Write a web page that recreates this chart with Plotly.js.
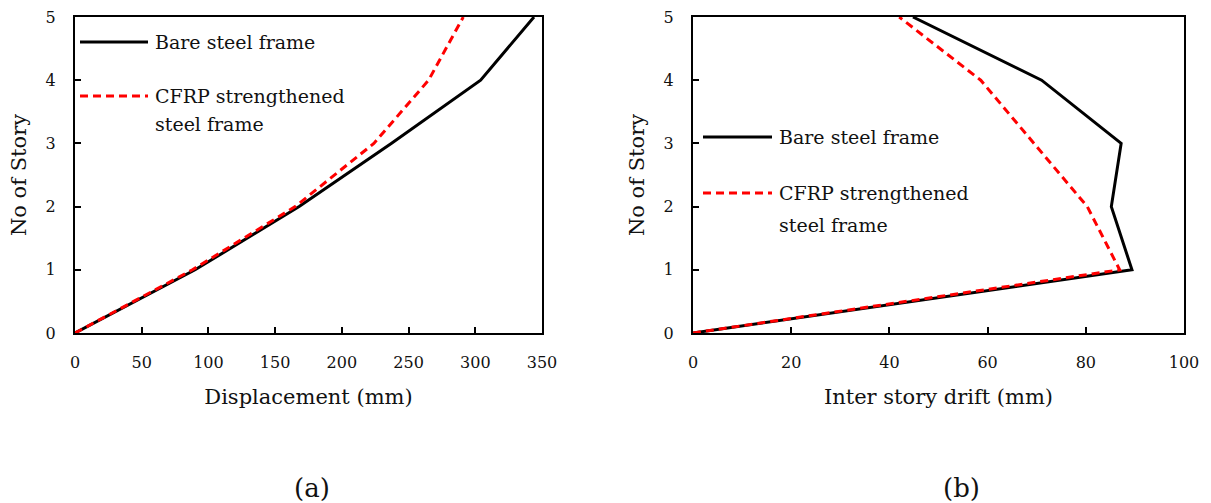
<!DOCTYPE html>
<html>
<head>
<meta charset="utf-8">
<script src="https://cdn.plot.ly/plotly-3.0.1.min.js"></script>
<style>html,body{margin:0;padding:0;background:#fff}#chart{width:1211px;height:503px}</style>
</head>
<body>
<div id="chart"></div>
<script>
// ---- data ----
const stories = [0, 1, 2, 3, 4, 5];
const dispBare = [0, 90, 168, 237, 304, 344];
const dispCFRP = [0, 88, 165, 224, 265, 291];
const driftBare = [0, 89.4, 85.2, 87.2, 71, 44.8];
const driftCFRP = [0, 86.9, 80.3, 69.4, 58.6, 42];
const seriesNames = ['Bare steel frame', 'CFRP strengthened steel frame'];
const xTitleA = 'Displacement (mm)';
const xTitleB = 'Inter story drift (mm)';
const yTitle = 'No of Story';
const captions = ['(a)', '(b)'];

const W = 1211, H = 503;
const px = x => x / W;
const py = y => 1 - y / H;
const FONT = 'DejaVu Serif';
const TXT = '#111';

const bareLine = {color: '#000000', width: 3};
const cfrpLine = {color: '#ff0000', width: 3, dash: '8px,5px'};

const traces = [
  {x: dispBare, y: stories, xaxis: 'x', yaxis: 'y', mode: 'lines', name: seriesNames[0], line: bareLine},
  {x: dispCFRP, y: stories, xaxis: 'x', yaxis: 'y', mode: 'lines', name: seriesNames[1], line: cfrpLine},
  {x: driftBare, y: stories, xaxis: 'x2', yaxis: 'y2', mode: 'lines', name: seriesNames[0], line: bareLine},
  {x: driftCFRP, y: stories, xaxis: 'x2', yaxis: 'y2', mode: 'lines', name: seriesNames[1], line: cfrpLine}
];

const axCommon = {
  showgrid: false, zeroline: false, showline: true, linecolor: '#000', linewidth: 2,
  mirror: true, ticks: 'inside', ticklen: 6, tickwidth: 2, tickcolor: '#000',
  tickfont: {family: FONT, size: 16, color: TXT}, fixedrange: true
};
const yDom = [py(333), py(17)];
const titleFont = {family: FONT, size: 21, color: TXT};

const layout = {
  width: W, height: H,
  font: {family: FONT, color: TXT},
  margin: {l: 0, r: 0, t: 0, b: 0},
  paper_bgcolor: '#fff', plot_bgcolor: '#fff',
  showlegend: false,
  xaxis: Object.assign({}, axCommon, {domain: [px(75), px(542)], range: [0, 350], dtick: 50, anchor: 'y',
    ticklabelstandoff: 14,
    title: {text: xTitleA, font: titleFont, standoff: 18}}),
  yaxis: Object.assign({}, axCommon, {domain: yDom, range: [0, 5], dtick: 1, anchor: 'x',
    ticklabelstandoff: 14,
    title: {text: yTitle, font: titleFont, standoff: 13}}),
  xaxis2: Object.assign({}, axCommon, {domain: [px(693), px(1184)], range: [0, 100], dtick: 20, anchor: 'y2',
    ticklabelstandoff: 14,
    title: {text: xTitleB, font: titleFont, standoff: 18}}),
  yaxis2: Object.assign({}, axCommon, {domain: yDom, range: [0, 5], dtick: 1, anchor: 'x2',
    ticklabelstandoff: 14,
    title: {text: yTitle, font: titleFont, standoff: 13}}),
  shapes: [
    {type: 'line', xref: 'paper', yref: 'paper', x0: px(80), x1: px(148), y0: py(42), y1: py(42), line: bareLine},
    {type: 'line', xref: 'paper', yref: 'paper', x0: px(80), x1: px(148), y0: py(96), y1: py(96), line: cfrpLine},
    {type: 'line', xref: 'paper', yref: 'paper', x0: px(703), x1: px(772), y0: py(137), y1: py(137), line: bareLine},
    {type: 'line', xref: 'paper', yref: 'paper', x0: px(703), x1: px(772), y0: py(193), y1: py(193), line: cfrpLine}
  ],
  annotations: []
};

function legText(t, x, y) {
  layout.annotations.push({text: t, xref: 'paper', yref: 'paper', x: px(x), y: py(y),
    xanchor: 'left', yanchor: 'middle', showarrow: false,
    font: {family: FONT, size: 19, color: TXT}});
}
legText(seriesNames[0], 153, 42);
legText('CFRP strengthened', 153, 96);
legText('steel frame', 153, 124);
legText(seriesNames[0], 777, 137);
legText('CFRP strengthened', 777, 193);
legText('steel frame', 777, 225);

layout.annotations.push({text: captions[0], xref: 'paper', yref: 'paper', x: px(312), y: py(488),
  xanchor: 'center', yanchor: 'middle', showarrow: false, font: {family: FONT, size: 26, color: TXT}});
layout.annotations.push({text: captions[1], xref: 'paper', yref: 'paper', x: px(961), y: py(488),
  xanchor: 'center', yanchor: 'middle', showarrow: false, font: {family: FONT, size: 26, color: TXT}});

Plotly.newPlot('chart', traces, layout, {displayModeBar: false, staticPlot: true});
</script>
</body>
</html>
